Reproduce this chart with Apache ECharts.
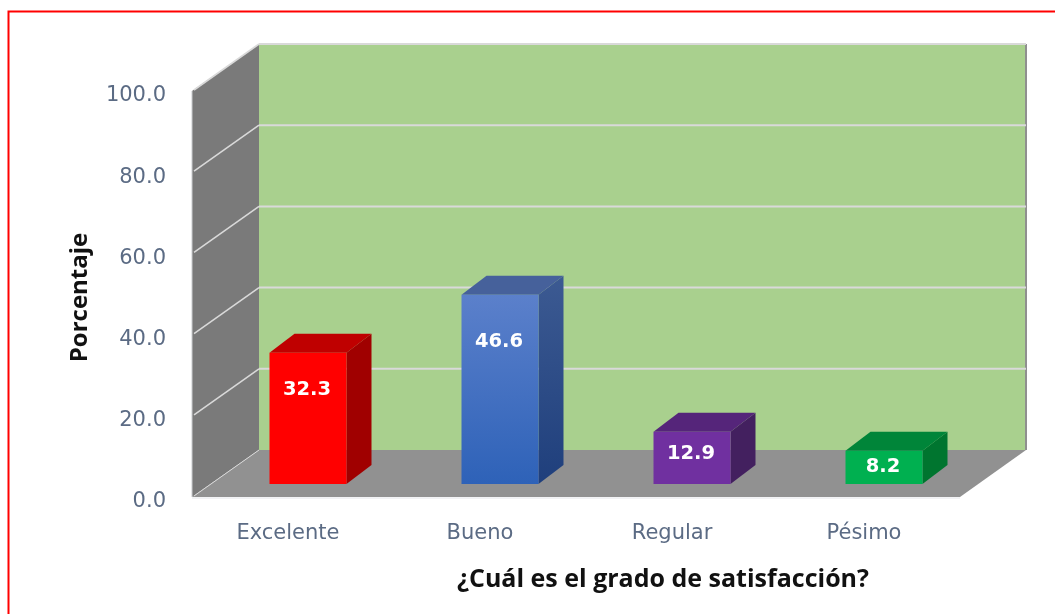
<!DOCTYPE html>
<html><head><meta charset="utf-8">
<style>html,body{margin:0;padding:0;background:#fff}#c{width:1055px;height:614px}</style>
<script src="https://cdn.jsdelivr.net/npm/echarts@6/dist/echarts.min.js"></script>
</head><body><div id="c"></div>
<script>
const categories = ['Excelente', 'Bueno', 'Regular', 'Pésimo'];
const values = [32.3, 46.6, 12.9, 8.2];
const yTicks = [0, 20, 40, 60, 80, 100];
const axisNameY = 'Porcentaje';
const axisNameX = '¿Cuál es el grado de satisfacción?';
// front, front gradient end, side top, side bottom, top face
const barPalette = [
  ['#ff0000', '#ff0000', '#a00000', '#a00000', '#bf0000'],
  ['#5b80cb', '#2e62b8', '#3c5a92', '#1f3f7c', '#46619b'],
  ['#7030a0', '#7030a0', '#43205f', '#43205f', '#55257a'],
  ['#00b050', '#00b050', '#00752f', '#00752f', '#008539']
];
const WALL_DX = 66, WALL_DY = -47;
const BAR_SHIFT = 20, BAR_WIDTH = 77, BAR_LIFT = -13, BAR_DX = 25, BAR_DY = -19;
const FONT = '"DejaVu Sans", sans-serif';
const FONT_NAME = '"Open Sans", sans-serif';

function poly(points, fill) {
  return { type: 'polygon', shape: { points }, style: { fill }, silent: true };
}
function seg(x1, y1, x2, y2, color, w) {
  return { type: 'line', shape: { x1, y1, x2, y2 }, style: { stroke: color, lineWidth: w, fill: null }, silent: true };
}
function vGrad(a, b) {
  return { type: 'linear', x: 0, y: 0, x2: 0, y2: 1, colorStops: [{ offset: 0, color: a }, { offset: 1, color: b }] };
}

function renderScene(params, api) {
  const cs = params.coordSys;
  const x0 = cs.x, x1 = cs.x + cs.width;
  const y0 = api.coord([0, 0])[1], yTop = api.coord([0, 100])[1];
  const kids = [];
  const tick = api.value(1);
  const y = api.coord([0, tick])[1];
  if (params.dataIndex === 0) {
    kids.push(poly([[x0, yTop], [x0 + WALL_DX + 1, yTop + WALL_DY], [x0 + WALL_DX + 1, y0 + WALL_DY], [x0, y0]], '#7a7a7a'));
    kids.push(poly([[x0 + WALL_DX + 1, yTop + WALL_DY], [x1 + WALL_DX, yTop + WALL_DY], [x1 + WALL_DX, y0 + WALL_DY], [x0 + WALL_DX + 1, y0 + WALL_DY]], '#a9d08e'));
    kids.push(poly([[x0, y0], [x0 + WALL_DX + 1, y0 + WALL_DY], [x1 + WALL_DX, y0 + WALL_DY], [x1, y0]], '#919191'));
    kids.push(seg(x1 + WALL_DX, yTop + WALL_DY, x1 + WALL_DX, y0 + WALL_DY, '#8f8f8f', 2));
    kids.push(seg(x0, y0 + 1, x1, y0 + 1, '#e4e6ea', 1));
    kids.push(seg(x0, yTop, x0, y0, '#c9cbce', 1));
  }
  kids.push(seg(x0 + 2, y - 1, x0 + WALL_DX + 1, y + WALL_DY, '#d9d9d9', tick === 0 ? 1 : 1.6));
  if (tick > 0) kids.push(seg(x0 + WALL_DX + 1, y + WALL_DY, x1 + WALL_DX, y + WALL_DY, '#d9d9d9', 2));
  return { type: 'group', children: kids };
}

function renderBar(params, api) {
  const i = api.value(0), v = api.value(1);
  const c = barPalette[i];
  const cx = api.coord([i, 0])[0] + BAR_SHIFT;
  const base = api.coord([i, 0])[1] + BAR_LIFT;
  const top = api.coord([i, v])[1] + BAR_LIFT;
  const l = cx - BAR_WIDTH / 2, r = cx + BAR_WIDTH / 2;
  const labelY = Math.min(api.coord([i, v * 0.82])[1], base - 17);
  return { type: 'group', children: [
    poly([[r, base], [r, top], [r + BAR_DX, top + BAR_DY], [r + BAR_DX, base + BAR_DY]], vGrad(c[2], c[3])),
    poly([[l, top], [l + BAR_DX, top + BAR_DY], [r + BAR_DX, top + BAR_DY], [r, top]], c[4]),
    { type: 'rect', shape: { x: l, y: top, width: r - l, height: base - top }, style: { fill: vGrad(c[0], c[1]) }, silent: true },
    { type: 'text', silent: true, style: { text: v.toFixed(1), x: cx - 1, y: labelY, align: 'center', verticalAlign: 'middle',
        fill: '#ffffff', font: 'bold 19.5px ' + FONT } }
  ] };
}

const chart = echarts.init(document.getElementById('c'));
chart.setOption({
  animation: false,
  backgroundColor: '#ffffff',
  grid: { left: 192, right: 95, top: 91, bottom: 117, containLabel: false },
  xAxis: {
    type: 'category', data: categories,
    axisLine: { show: false }, axisTick: { show: false }, splitLine: { show: false },
    axisLabel: { color: '#5b6b84', fontFamily: FONT, fontSize: 21, margin: 26 },
    name: axisNameX, nameLocation: 'middle', nameGap: 70,
    nameTextStyle: { color: '#111111', fontFamily: FONT_NAME, fontWeight: 'bold', fontSize: 25, padding: [0, 0, 0, 174] }
  },
  yAxis: {
    type: 'value', min: 0, max: 100, interval: 20,
    axisLine: { show: false }, axisTick: { show: false }, splitLine: { show: false },
    axisLabel: { color: '#5b6b84', fontFamily: FONT, fontSize: 21, margin: 26, verticalAlign: 'top', lineHeight: 10, formatter: v => v.toFixed(1) },
    name: axisNameY, nameLocation: 'middle', nameGap: 100,
    nameTextStyle: { color: '#111111', fontFamily: FONT_NAME, fontWeight: 'bold', fontSize: 24, padding: [4, 7, 0, 0] }
  },
  graphic: [{ type: 'rect', silent: true, shape: { x: 8.5, y: 11.5, width: 1200, height: 800 },
    style: { fill: null, stroke: '#ff0000', lineWidth: 2 }, z: 10 }],
  series: [
    { type: 'custom', name: 'escena', coordinateSystem: 'cartesian2d', clip: false, silent: true, z: 1,
      renderItem: renderScene, data: yTicks.map(t => [0, t]), encode: { x: 0, y: 1 } },
    { type: 'custom', name: 'Porcentaje', coordinateSystem: 'cartesian2d', clip: false, silent: true, z: 2,
      renderItem: renderBar, data: values.map((v, i) => [i, v]), encode: { x: 0, y: 1 } }
  ]
});
</script></body></html>
